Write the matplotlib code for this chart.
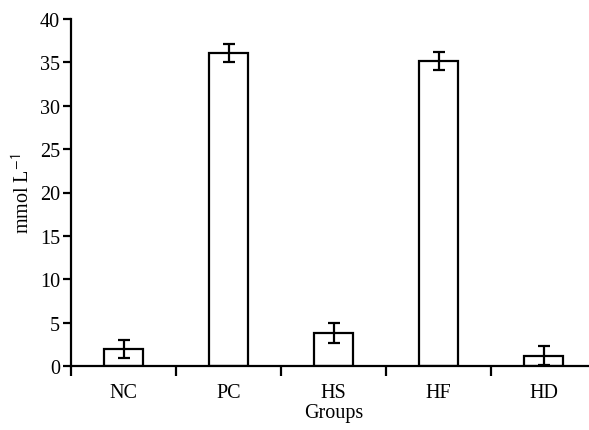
import matplotlib
matplotlib.use("Agg")
import matplotlib.pyplot as plt

groups = ["NC", "PC", "HS", "HF", "HD"]
values = [2.0, 36.1, 3.8, 35.2, 1.2]
errors = [1.05, 1.0, 1.2, 1.05, 1.1]

plt.rcParams["font.family"] = ["Liberation Serif", "DejaVu Serif"]
plt.rcParams["mathtext.fontset"] = "stix"

fig = plt.figure(figsize=(5.89, 4.31), dpi=100)
ax = fig.add_axes([71 / 589, 64 / 431, 525 / 589, 347 / 431])

x = range(len(groups))
ax.bar(x, values, width=0.37, color="white", edgecolor="black", linewidth=1.6,
       yerr=errors, error_kw=dict(ecolor="black", elinewidth=1.6, capsize=4,
                                  capthick=1.6))

ax.set_xlim(-0.5, len(groups) - 0.5)
ax.set_ylim(0, 40)
ax.set_yticks(range(0, 41, 5))
ax.set_xticks([i + 0.5 for i in range(-1, len(groups) - 1)])
ax.set_xticklabels([])
ax.set_xticks(list(x), minor=True)
ax.set_xticklabels(groups, minor=True)
ax.tick_params(axis="x", which="minor", length=0, pad=12, labelsize=14.5)
ax.tick_params(axis="x", which="major", length=7, width=1.6, direction="out")
ax.tick_params(axis="y", length=6, width=1.6, labelsize=14.5, pad=2)

for s in ["top", "right"]:
    ax.spines[s].set_visible(False)
for s in ["left", "bottom"]:
    ax.spines[s].set_linewidth(1.6)

ax.set_ylabel("mmol L$^{\\mathsf{-1}}$", fontsize=14.5, labelpad=4)
ax.set_xlabel("Groups", fontsize=14.5, labelpad=1)

fig.savefig("out.png", dpi=100)
